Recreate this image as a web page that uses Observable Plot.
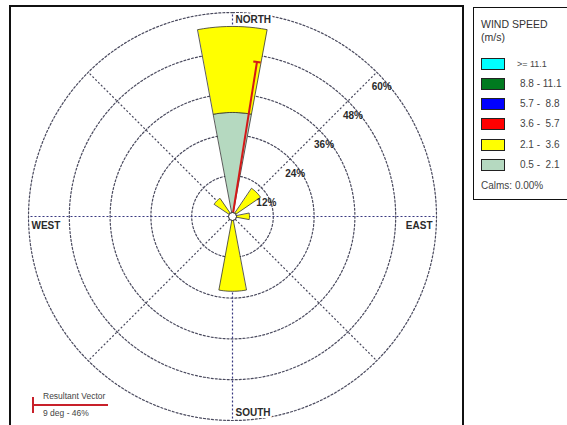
<!DOCTYPE html>
<html><head><meta charset="utf-8">
<script src="https://cdn.jsdelivr.net/npm/d3@7"></script>
<script src="https://cdn.jsdelivr.net/npm/@observablehq/plot@0.6"></script>
<style>
body{margin:0;background:#fff;font-family:"Liberation Sans",Arial,sans-serif;}
#wrap{position:relative;width:567px;height:425px;overflow:hidden;background:#fff;}
#chart{position:absolute;left:0;top:0;}
#frame{position:absolute;left:9px;top:5px;width:455px;height:440px;border:2px solid #111;box-sizing:border-box;pointer-events:none;}
#legend{position:absolute;left:473px;top:7px;width:96px;height:193px;border:1.5px solid #111;box-sizing:border-box;color:#333;}
#legend .t{position:absolute;left:7px;font-size:10.5px;line-height:12px;white-space:nowrap;}
#legend .sw{position:absolute;left:7px;width:24px;height:12px;border:1px solid #222;box-sizing:border-box;}
#legend .lb{position:absolute;left:46px;font-size:10px;line-height:12px;white-space:pre;color:#444;}
#rv .line{position:absolute;background:#c8202a;}
#rv .txt{position:absolute;left:43px;font-size:8.5px;line-height:10px;color:#444;white-space:nowrap;}
</style></head>
<body>
<div id="wrap"><div id="chart"></div><div id="frame"></div><div id="legend"></div><div id="rv"></div></div>
<script>
// ---- data ----
const directions = ["N","NNE","NE","ENE","E","ESE","SE","SSE","S","SSW","SW","WSW","W","WNW","NW","NNW"];
const speedBands = ["0.5 - 2.1","2.1 - 3.6","3.6 - 5.7","5.7 - 8.8","8.8 - 11.1",">= 11.1"];
const bandLabels = ["0.5 -  2.1","2.1 -  3.6","3.6 -  5.7","5.7 -  8.8","8.8 - 11.1",">= 11.1"];
const bandColors = ["#b5d9c0","#ffff00","#ff0000","#0000ff","#007a1f","#00ffff"];
const band1 = [30.6,0,0,0,0,0,0,0,0,0,0,0,0,0,0,0];      // 0.5 - 2.1
const band2 = [25.3,0,10,0,5,0,0,0,22,0,0,0,0,0,6.5,0];  // 2.1 - 3.6
const band3 = [0,0,0,0,0,0,0,0,0,0,0,0,0,0,0,0];         // 3.6 - 5.7
const band4 = [0,0,0,0,0,0,0,0,0,0,0,0,0,0,0,0];         // 5.7 - 8.8
const band5 = [0,0,0,0,0,0,0,0,0,0,0,0,0,0,0,0];         // 8.8 - 11.1
const band6 = [0,0,0,0,0,0,0,0,0,0,0,0,0,0,0,0];         // >= 11.1
const ringValues = [12,24,36,48,60];
const ringLabels = ["12%","24%","36%","48%","60%"];
const compassLabels = ["NORTH","EAST","SOUTH","WEST"];
const resultantDeg = 9;
const resultantPct = 46;
const calmsText = "Calms: 0.00%";

// ---- geometry helpers ----
const rad = d => d * Math.PI / 180;
const P = (r, deg) => ({x: r * Math.sin(rad(deg)), y: r * Math.cos(rad(deg))});
const bands = [band1, band2, band3, band4, band5, band6];
const half = 10.5;

const petals = bands.map(() => []);
directions.forEach((d, i) => {
  const theta = i * 22.5;
  let r0 = 0;
  bands.forEach((b, j) => {
    const v = b[i];
    if (v > 0) {
      const r1 = r0 + v, id = d + j;
      const n = 12;
      for (let k = 0; k <= n; k++) petals[j].push({id, ...P(r1, theta - half + 2 * half * k / n)});
      if (r0 > 0) for (let k = n; k >= 0; k--) petals[j].push({id, ...P(r0, theta - half + 2 * half * k / n)});
      else petals[j].push({id, x: 0, y: 0});
      r0 = r1;
    }
  });
});

const ringPts = [];
ringValues.forEach(r => { for (let a = 0; a <= 360; a += 2) ringPts.push({ring: r, ...P(r, a)}); });
const spokes = d3.range(0, 360, 45).map(a => ({a, ...P(ringValues[ringValues.length - 1], a)}));
const axisSpokes = spokes.filter(s => s.a % 90 === 0);
const diagSpokes = spokes.filter(s => s.a % 90 !== 0);
const rmax = ringValues[ringValues.length - 1];
const ringLab = ringValues.map((r, i) => ({label: ringLabels[i], ...P(r, 45)}));
const tip = P(resultantPct, resultantDeg);
const capL = {x: tip.x + 1.1 * Math.cos(rad(resultantDeg)), y: tip.y - 1.1 * Math.sin(rad(resultantDeg))};
const capR = {x: tip.x - 1.1 * Math.cos(rad(resultantDeg)), y: tip.y + 1.1 * Math.sin(rad(resultantDeg))};

const font = {fontFamily: "Liberation Sans, Arial, sans-serif", fontWeight: "bold", fill: "#2a2a2a"};

const chart = Plot.plot({
  width: 470, height: 425, margin: 0,
  x: {domain: [-rmax, rmax], range: [28, 436], axis: null},
  y: {domain: [-rmax, rmax], range: [420, 12], axis: null},
  style: {background: "transparent"},
  marks: [
    Plot.line(ringPts, {x: "x", y: "y", z: "ring", stroke: "#4a4a5e", strokeWidth: 1.2, strokeDasharray: "2,2"}),
    Plot.link(diagSpokes, {x1: 0, y1: 0, x2: "x", y2: "y", stroke: "#4a4a5e", strokeWidth: 1.2, strokeDasharray: "2,2"}),
    Plot.link(axisSpokes, {x1: 0, y1: 0, x2: "x", y2: "y", stroke: "#383880", strokeWidth: 1.2, strokeDasharray: "2,2"}),
    ...petals.map((pts, j) => Plot.line(pts, {x: "x", y: "y", z: "id", fill: bandColors[j], stroke: "#333", strokeWidth: 0.8, curve: "linear-closed"})),
    Plot.link([{x1: 0, y1: 0, ...tip}], {x1: "x1", y1: "y1", x2: "x", y2: "y", stroke: "#d41818", strokeWidth: 2}),
    Plot.link([{a: capL, b: capR}], {x1: d => d.a.x, y1: d => d.a.y, x2: d => d.b.x, y2: d => d.b.y, stroke: "#d41818", strokeWidth: 2}),
    Plot.dot([{x: 0, y: 0}], {x: "x", y: "y", r: 4, fill: "white", stroke: "#222", strokeWidth: 1}),
    Plot.text(ringLab, {x: "x", y: "y", text: "label", dx: 5, dy: 15, fontSize: 10, ...font}),
    Plot.text([{t: compassLabels[0], ...P(rmax, 0)}], {x: "x", y: "y", text: "t", textAnchor: "start", dx: 3, dy: 7, fontSize: 10, stroke: "white", strokeWidth: 4, ...font}),
    Plot.text([{t: compassLabels[2], ...P(rmax, 180)}], {x: "x", y: "y", text: "t", textAnchor: "start", dx: 3, dy: -8, fontSize: 10, stroke: "white", strokeWidth: 4, ...font}),
    Plot.text([{t: compassLabels[3], ...P(rmax, 270)}], {x: "x", y: "y", text: "t", textAnchor: "start", dx: 3, dy: 9, fontSize: 10, stroke: "white", strokeWidth: 4, ...font}),
    Plot.text([{t: compassLabels[1], ...P(rmax, 90)}], {x: "x", y: "y", text: "t", textAnchor: "end", dx: -4, dy: 9, fontSize: 10, stroke: "white", strokeWidth: 4, ...font})
  ]
});
document.getElementById("chart").appendChild(chart);

// ---- legend ----
const lg = document.getElementById("legend");
let html = `<div class="t" style="top:10px">WIND SPEED</div><div class="t" style="top:23px">(m/s)</div>`;
const order = d3.range(speedBands.length).reverse();
order.forEach((j, k) => {
  const cy = 55.5 + k * 20.3;
  html += `<div class="sw" style="top:${cy - 6}px;background:${bandColors[j]}"></div>`;
  html += `<div class="lb" style="top:${cy - 6}px;${j === 5 ? "left:43px;font-size:9px" : ""}">${bandLabels[j]}</div>`;
});
html += `<div class="t" style="top:172px;font-size:10px;color:#444">${calmsText}</div>`;
lg.innerHTML = html;

// ---- resultant vector key ----
document.getElementById("rv").innerHTML =
  `<div class="line" style="left:34px;top:404px;width:74px;height:2px"></div>` +
  `<div class="line" style="left:32px;top:397px;width:2px;height:16px"></div>` +
  `<div class="txt" style="top:391px">Resultant Vector</div>` +
  `<div class="txt" style="top:408px">${resultantDeg} deg - ${resultantPct}%</div>`;
</script>
</body></html>
